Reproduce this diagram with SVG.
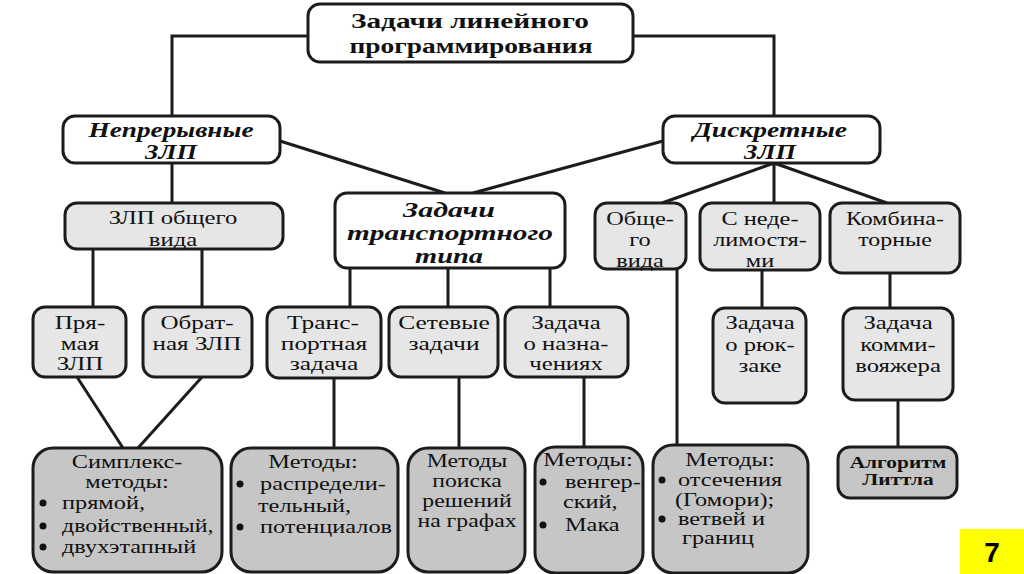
<svg xmlns="http://www.w3.org/2000/svg" width="1024" height="574" viewBox="0 0 1024 574">
<style>
.box{stroke:#1c1c1c;stroke-width:3}
.w{fill:#fff}
.l{fill:#e6e6e6}
.d{fill:#c6c6c6}
.t{font-family:"Liberation Serif",serif;font-size:19px;fill:#111;text-anchor:middle}
.s{text-anchor:start}
.i{font-style:italic;font-weight:bold;font-size:20px}
.b{font-weight:bold}
.h{font-weight:bold;font-size:21px}
.conn{stroke:#1c1c1c;stroke-width:3;fill:none}
</style>
<rect width="1024" height="574" fill="#fff"/>
<g id="connectors" class="conn">
<path d="M308,36 H172 V116"/>
<path d="M633,36 H774 V116"/>
<path d="M172,163 V203"/>
<path d="M280,141 L445,193"/>
<path d="M663,141 L473,193"/>
<path d="M774,163 L662,203 M774,163 V203 M774,163 L887,203"/>
<path d="M93,249 V307 M202,249 V307"/>
<path d="M350,268 V307 M448,268 V307 M550,268 V307"/>
<path d="M762,270 V308 M890,273 V308"/>
<path d="M677,269 V445"/>
<path d="M77,377 L123,448 M202,377 L138,448"/>
<path d="M334,378 V448 M459,377 V448 M584,377 V447 M898,400 V447"/>
</g>
<g id="n-root">
<rect class="box w" x="308" y="4" width="325" height="58" rx="12"/>
<text class="t h" x="470" y="28" textLength="238" lengthAdjust="spacingAndGlyphs">Задачи линейного</text>
<text class="t h" x="471" y="53" textLength="243" lengthAdjust="spacingAndGlyphs">программирования</text>
</g>
<g id="n-cont">
<rect class="box w" x="63" y="116" width="217" height="47" rx="12"/>
<text class="t i" x="171" y="137" textLength="165" lengthAdjust="spacingAndGlyphs">Непрерывные</text>
<text class="t i" x="171" y="159" textLength="52" lengthAdjust="spacingAndGlyphs">ЗЛП</text>
</g>
<g id="n-disc">
<rect class="box w" x="663" y="116" width="217" height="47" rx="12"/>
<text class="t i" x="770" y="137" textLength="154" lengthAdjust="spacingAndGlyphs">Дискретные</text>
<text class="t i" x="770" y="159" textLength="52" lengthAdjust="spacingAndGlyphs">ЗЛП</text>
</g>
<g id="n-general">
<rect class="box l" x="65" y="203" width="218" height="46" rx="12"/>
<text class="t" transform="translate(173 224) scale(1.3 1)">ЗЛП общего</text>
<text class="t" transform="translate(173 246) scale(1.3 1)">вида</text>
</g>
<g id="n-transp-type">
<rect class="box w" x="335" y="193" width="230" height="75" rx="12"/>
<text class="t i" x="449" y="217" textLength="92" lengthAdjust="spacingAndGlyphs">Задачи</text>
<text class="t i" x="450" y="240" textLength="206" lengthAdjust="spacingAndGlyphs">транспортного</text>
<text class="t i" x="449" y="263" textLength="68" lengthAdjust="spacingAndGlyphs">типа</text>
</g>
<g id="n-disc-general">
<rect class="box l" x="595" y="203" width="91" height="66" rx="12"/>
<text class="t" transform="translate(640 225) scale(1.28 1)">Обще-</text>
<text class="t" transform="translate(640 246) scale(1.28 1)">го</text>
<text class="t" transform="translate(640 267) scale(1.28 1)">вида</text>
</g>
<g id="n-indiv">
<rect class="box l" x="700" y="203" width="120" height="67" rx="12"/>
<text class="t" transform="translate(760 225) scale(1.28 1)">С неде-</text>
<text class="t" transform="translate(760 246) scale(1.28 1)">лимостя-</text>
<text class="t" transform="translate(760 267) scale(1.28 1)">ми</text>
</g>
<g id="n-comb">
<rect class="box l" x="830" y="203" width="130" height="70" rx="12"/>
<text class="t" transform="translate(895 225) scale(1.26 1)">Комбина-</text>
<text class="t" transform="translate(895 246) scale(1.26 1)">торные</text>
</g>
<g id="n-direct">
<rect class="box l" x="33" y="307" width="93" height="70" rx="12"/>
<text class="t" transform="translate(80 329) scale(1.32 1)">Пря-</text>
<text class="t" transform="translate(80 350) scale(1.32 1)">мая</text>
<text class="t" transform="translate(80 370) scale(1.32 1)">ЗЛП</text>
</g>
<g id="n-dual">
<rect class="box l" x="143" y="307" width="109" height="70" rx="12"/>
<text class="t" transform="translate(197 329) scale(1.32 1)">Обрат-</text>
<text class="t" transform="translate(197 350) scale(1.32 1)">ная ЗЛП</text>
</g>
<g id="n-transport">
<rect class="box l" x="267" y="307" width="114" height="71" rx="12"/>
<text class="t" transform="translate(323 329) scale(1.34 1)">Транс-</text>
<text class="t" transform="translate(324 350) scale(1.34 1)">портная</text>
<text class="t" transform="translate(324 370) scale(1.34 1)">задача</text>
</g>
<g id="n-network">
<rect class="box l" x="389" y="307" width="109" height="70" rx="12"/>
<text class="t" transform="translate(444 329) scale(1.34 1)">Сетевые</text>
<text class="t" transform="translate(444 350) scale(1.34 1)">задачи</text>
</g>
<g id="n-assign">
<rect class="box l" x="505" y="307" width="123" height="70" rx="12"/>
<text class="t" transform="translate(566 329) scale(1.3 1)">Задача</text>
<text class="t" transform="translate(566 350) scale(1.3 1)">о назна-</text>
<text class="t" transform="translate(566 370) scale(1.3 1)">чениях</text>
</g>
<g id="n-knapsack">
<rect class="box l" x="713" y="308" width="93" height="95" rx="12"/>
<text class="t" transform="translate(760 329) scale(1.3 1)">Задача</text>
<text class="t" transform="translate(760 351) scale(1.3 1)">о рюк-</text>
<text class="t" transform="translate(760 372) scale(1.3 1)">заке</text>
</g>
<g id="n-tsp">
<rect class="box l" x="843" y="308" width="110" height="92" rx="12"/>
<text class="t" transform="translate(898 329) scale(1.3 1)">Задача</text>
<text class="t" transform="translate(898 351) scale(1.3 1)">комми-</text>
<text class="t" transform="translate(898 372) scale(1.3 1)">вояжера</text>
</g>
<g id="n-simplex">
<rect class="box d" x="33" y="448" width="189" height="124" rx="20"/>
<text class="t" transform="translate(127 468) scale(1.28 1)">Симплекс-</text>
<text class="t" transform="translate(127 488) scale(1.28 1)">методы:</text>
<circle cx="43" cy="503" r="3.5" fill="#111"/>
<text class="t s" transform="translate(62 509) scale(1.28 1)">прямой,</text>
<circle cx="43" cy="526" r="3.5" fill="#111"/>
<text class="t s" transform="translate(62 532) scale(1.26 1)">двойственный,</text>
<circle cx="43" cy="547" r="3.5" fill="#111"/>
<text class="t s" transform="translate(62 553) scale(1.28 1)">двухэтапный</text>
</g>
<g id="n-distr">
<rect class="box d" x="231" y="448" width="167" height="124" rx="20"/>
<text class="t" transform="translate(313 468) scale(1.28 1)">Методы:</text>
<circle cx="240" cy="484" r="3.5" fill="#111"/>
<text class="t s" transform="translate(260 490) scale(1.28 1)">распредели-</text>
<text class="t s" transform="translate(258 512) scale(1.28 1)">тельный,</text>
<circle cx="240" cy="527" r="3.5" fill="#111"/>
<text class="t s" transform="translate(260 533) scale(1.28 1)">потенциалов</text>
</g>
<g id="n-graph" style="font-size:18px">
<rect class="box d" x="408" y="448" width="117" height="124" rx="20"/>
<text class="t" style="font-size:18px" transform="translate(467 467) scale(1.32 1)">Методы</text>
<text class="t" style="font-size:18px" transform="translate(467 487) scale(1.32 1)">поиска</text>
<text class="t" style="font-size:18px" transform="translate(467 507) scale(1.32 1)">решений</text>
<text class="t" style="font-size:18px" transform="translate(467 527) scale(1.32 1)">на графах</text>
</g>
<g id="n-hung">
<rect class="box d" x="535" y="447" width="108" height="126" rx="20"/>
<text class="t" transform="translate(588 466) scale(1.28 1)">Методы:</text>
<circle cx="543" cy="482" r="3.5" fill="#111"/>
<text class="t s" transform="translate(565 488) scale(1.28 1)">венгер-</text>
<text class="t s" transform="translate(563 508) scale(1.28 1)">ский,</text>
<circle cx="543" cy="525" r="3.5" fill="#111"/>
<text class="t s" transform="translate(565 531) scale(1.28 1)">Мака</text>
</g>
<g id="n-cut">
<rect class="box d" x="653" y="445" width="155" height="128" rx="20"/>
<text class="t" transform="translate(730 466) scale(1.28 1)">Методы:</text>
<circle cx="662" cy="480" r="3.5" fill="#111"/>
<text class="t s" transform="translate(678 486) scale(1.28 1)">отсечения</text>
<text class="t s" transform="translate(675 506) scale(1.28 1)">(Гомори);</text>
<circle cx="662" cy="519" r="3.5" fill="#111"/>
<text class="t s" transform="translate(678 525) scale(1.28 1)">ветвей и</text>
<text class="t s" transform="translate(682 544) scale(1.28 1)">границ</text>
</g>
<g id="n-little">
<rect class="box d" x="838" y="447" width="119" height="51" rx="12"/>
<text class="t b" style="font-size:17px" transform="translate(898 468) scale(1.26 1)">Алгоритм</text>
<text class="t b" style="font-size:17px" transform="translate(898 485) scale(1.26 1)">Литтла</text>
</g>
<g id="page-num">
<rect x="960" y="529" width="64" height="45" fill="#ffff00"/>
<text x="992" y="562" font-family="Liberation Sans, sans-serif" font-size="28" font-weight="bold" text-anchor="middle" fill="#000">7</text>
</g>
</svg>
